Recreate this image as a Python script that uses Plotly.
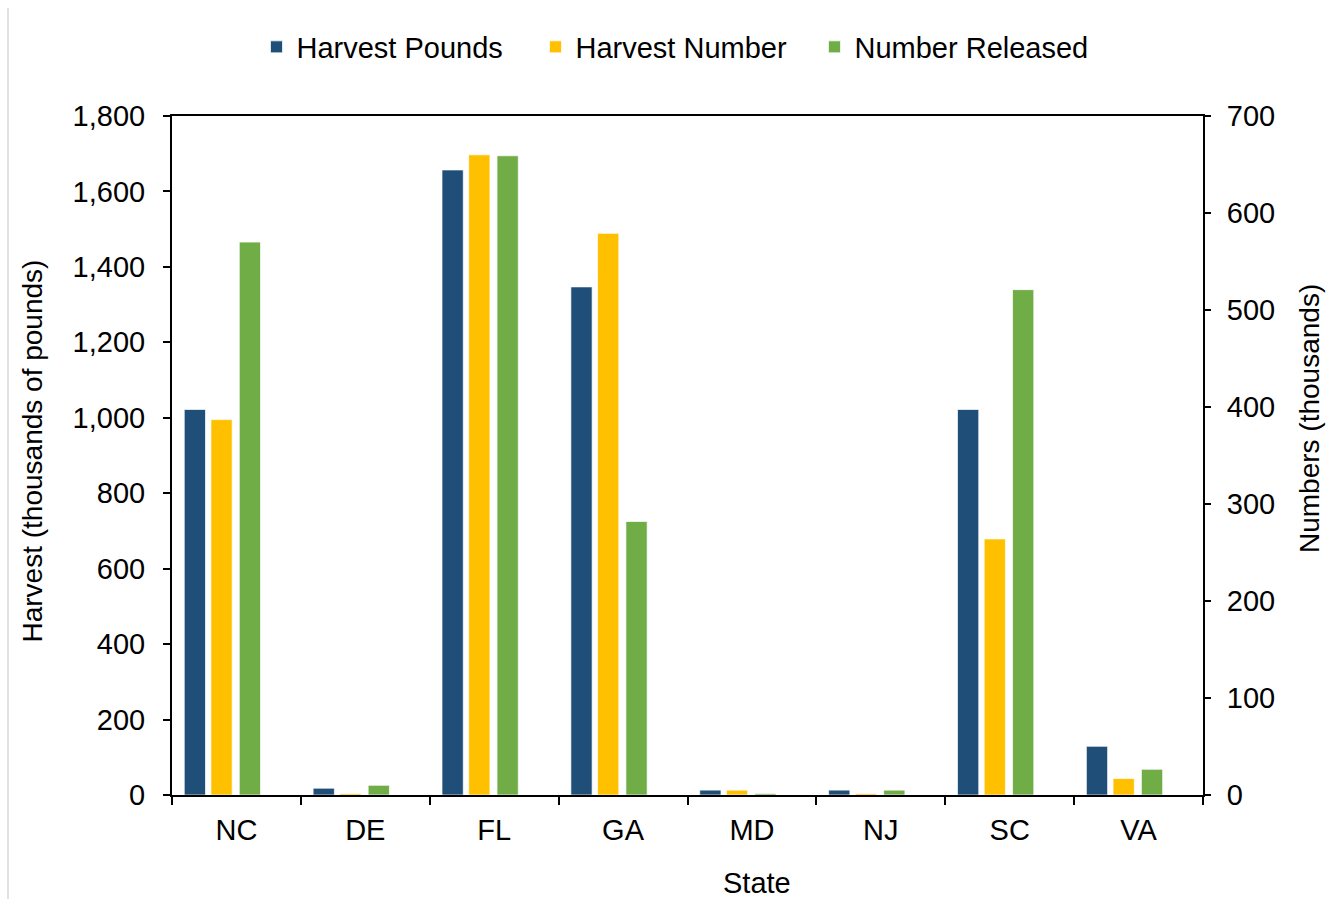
import plotly.graph_objects as go

# Recreational harvest and releases by state
states = ["NC", "DE", "FL", "GA", "MD", "NJ", "SC", "VA"]
harvest_pounds = [1022, 18, 1657, 1347, 13, 13, 1022, 129]      # thousands of pounds (left axis)
harvest_number = [387, 1.5, 660, 579, 5, 1.5, 264, 17]          # thousands of fish (right axis)
number_released = [570, 10, 659, 282, 1.5, 5, 521, 26.5]       # thousands of fish (right axis)

W, H = 1339, 899
L, R, T, B = 172, 136, 116, 104
FONT = "Liberation Sans, Arial, sans-serif"
FS = 29
FS_TITLE = 28

BLUE, GOLD, GREEN = "#1F4E79", "#FFC000", "#70AD47"
bar_w = 0.165

fig = go.Figure()
fig.add_trace(go.Bar(
    x=states, y=harvest_pounds, name="Harvest Pounds", yaxis="y",
    marker=dict(color=BLUE, line=dict(color="rgba(255,255,255,0.7)", width=1)),
    width=bar_w, offset=-0.405,
))
fig.add_trace(go.Bar(
    x=states, y=harvest_number, name="Harvest Number", yaxis="y2",
    marker=dict(color=GOLD, line=dict(color="rgba(255,255,255,0.7)", width=1)),
    width=bar_w, offset=-0.198,
))
fig.add_trace(go.Bar(
    x=states, y=number_released, name="Number Released", yaxis="y2",
    marker=dict(color=GREEN, line=dict(color="rgba(255,255,255,0.7)", width=1)),
    width=bar_w, offset=0.022,
))


def px_x(px):
    return (px - L) / (W - L - R)


def px_y(py):
    return (H - B - py) / (H - T - B)


fig.update_layout(
    width=W, height=H,
    margin=dict(l=L, r=R, t=T, b=B, autoexpand=False),
    paper_bgcolor="white", plot_bgcolor="white",
    font=dict(family=FONT, size=FS, color="black"),
    barmode="overlay",
    showlegend=True,
    legend=dict(
        orientation="h", xref="container", yref="container",
        x=675 / W, y=1 - 47 / H, xanchor="center", yanchor="middle",
        font=dict(size=FS), itemwidth=30, traceorder="normal",
        entrywidth=234, entrywidthmode="pixels",
        bgcolor="rgba(0,0,0,0)",
    ),
    xaxis=dict(
        type="category", categoryorder="array", categoryarray=states,
        range=[-0.5, len(states) - 0.5],
        tickson="boundaries", ticks="outside", ticklen=8, tickwidth=1.5, tickcolor="black",
        showline=True, linecolor="black", linewidth=2, mirror=True,
        showgrid=False, zeroline=False, ticklabelstandoff=8,
    ),
    yaxis=dict(
        range=[0, 1800], dtick=200, tickformat=",",
        ticks="outside", ticklen=7, tickwidth=1.5, tickcolor="black",
        showline=True, linecolor="black", linewidth=2,
        showgrid=False, zeroline=False, ticklabelstandoff=12,
    ),
    yaxis2=dict(
        range=[0, 700], dtick=100, overlaying="y", side="right",
        ticks="outside", ticklen=6, tickwidth=1.5, tickcolor="black",
        showline=True, linecolor="black", linewidth=2,
        showgrid=False, zeroline=False, ticklabelstandoff=10,
    ),
    annotations=[
        dict(text="Harvest (thousands of pounds)", xref="paper", yref="paper",
             x=px_x(31.5), y=px_y(451), textangle=-90, showarrow=False,
             xanchor="center", yanchor="middle", font=dict(size=FS_TITLE)),
        dict(text="Numbers (thousands)", xref="paper", yref="paper",
             x=px_x(1309), y=px_y(419), textangle=-90, showarrow=False,
             xanchor="center", yanchor="middle", font=dict(size=FS_TITLE)),
        dict(text="State", xref="paper", yref="paper",
             x=px_x(757), y=px_y(883), showarrow=False,
             xanchor="center", yanchor="middle", font=dict(size=FS)),
    ],
    shapes=[
        dict(type="line", xref="paper", yref="paper",
             x0=px_x(8), x1=px_x(8), y0=px_y(8), y1=px_y(H),
             line=dict(color="#d9d9d9", width=1.5)),
    ],
)

fig.write_html("out.html")
